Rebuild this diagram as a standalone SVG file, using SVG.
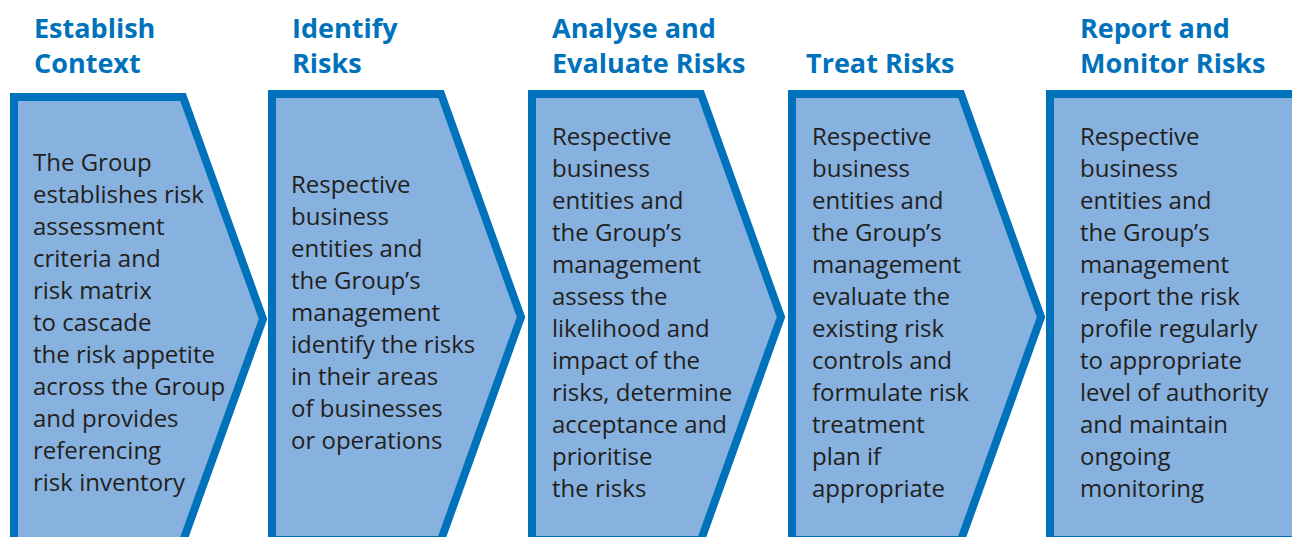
<svg xmlns="http://www.w3.org/2000/svg" width="1292" height="537" viewBox="0 0 1292 537">
<style>
.shape{fill:#87b1de;stroke:#0072bc;stroke-width:8;stroke-linejoin:miter;stroke-miterlimit:10}
.title{font-family:"Open Sans","Noto Sans","DejaVu Sans",sans-serif;font-weight:bold;font-size:27px;fill:#0072bc}
.body{font-family:"Open Sans","Noto Sans","DejaVu Sans",sans-serif;font-size:24px;fill:#231f20}
</style>
<rect width="1292" height="537" fill="#ffffff"/>
<g id="step1">
<polygon class="shape" points="14,97 183,97 263,319 183,541 14,541"/>
<text class="title"><tspan x="34" y="38">Establish</tspan><tspan x="34" y="73">Context</tspan></text>
<text class="body">
<tspan x="33" y="171">The Group</tspan>
<tspan x="33" y="203">establishes risk</tspan>
<tspan x="33" y="235">assessment</tspan>
<tspan x="33" y="267">criteria and</tspan>
<tspan x="33" y="299">risk matrix</tspan>
<tspan x="33" y="331">to cascade</tspan>
<tspan x="33" y="363">the risk appetite</tspan>
<tspan x="33" y="395">across the Group</tspan>
<tspan x="33" y="427">and provides</tspan>
<tspan x="33" y="459">referencing</tspan>
<tspan x="33" y="491">risk inventory</tspan>
</text>
</g>
<g id="step2">
<polygon class="shape" points="272,94 441,94 521,317 441,540 272,540"/>
<text class="title"><tspan x="292" y="38">Identify</tspan><tspan x="292" y="73">Risks</tspan></text>
<text class="body">
<tspan x="291" y="193">Respective</tspan>
<tspan x="291" y="225">business</tspan>
<tspan x="291" y="257">entities and</tspan>
<tspan x="291" y="289">the Group’s</tspan>
<tspan x="291" y="321">management</tspan>
<tspan x="291" y="353">identify the risks</tspan>
<tspan x="291" y="385">in their areas</tspan>
<tspan x="291" y="417">of businesses</tspan>
<tspan x="291" y="449">or operations</tspan>
</text>
</g>
<g id="step3">
<polygon class="shape" points="532,94 701,94 781,317 701,540 532,540"/>
<text class="title"><tspan x="552" y="38">Analyse and</tspan><tspan x="552" y="73">Evaluate Risks</tspan></text>
<text class="body">
<tspan x="552" y="145">Respective</tspan>
<tspan x="552" y="177">business</tspan>
<tspan x="552" y="209">entities and</tspan>
<tspan x="552" y="241">the Group’s</tspan>
<tspan x="552" y="273">management</tspan>
<tspan x="552" y="305">assess the</tspan>
<tspan x="552" y="337">likelihood and</tspan>
<tspan x="552" y="369">impact of the</tspan>
<tspan x="552" y="401">risks, determine</tspan>
<tspan x="552" y="433">acceptance and</tspan>
<tspan x="552" y="465">prioritise</tspan>
<tspan x="552" y="497">the risks</tspan>
</text>
</g>
<g id="step4">
<polygon class="shape" points="792,94 961,94 1041,317 961,540 792,540"/>
<text class="title"><tspan x="806" y="73">Treat Risks</tspan></text>
<text class="body">
<tspan x="812" y="145">Respective</tspan>
<tspan x="812" y="177">business</tspan>
<tspan x="812" y="209">entities and</tspan>
<tspan x="812" y="241">the Group’s</tspan>
<tspan x="812" y="273">management</tspan>
<tspan x="812" y="305">evaluate the</tspan>
<tspan x="812" y="337">existing risk</tspan>
<tspan x="812" y="369">controls and</tspan>
<tspan x="812" y="401">formulate risk</tspan>
<tspan x="812" y="433">treatment</tspan>
<tspan x="812" y="465">plan if</tspan>
<tspan x="812" y="497">appropriate</tspan>
</text>
</g>
<g id="step5">
<polygon class="shape" points="1050,94 1300,94 1300,540 1050,540"/>
<text class="title"><tspan x="1080" y="38">Report and</tspan><tspan x="1080" y="73">Monitor Risks</tspan></text>
<text class="body">
<tspan x="1080" y="145">Respective</tspan>
<tspan x="1080" y="177">business</tspan>
<tspan x="1080" y="209">entities and</tspan>
<tspan x="1080" y="241">the Group’s</tspan>
<tspan x="1080" y="273">management</tspan>
<tspan x="1080" y="305">report the risk</tspan>
<tspan x="1080" y="337">profile regularly</tspan>
<tspan x="1080" y="369">to appropriate</tspan>
<tspan x="1080" y="401">level of authority</tspan>
<tspan x="1080" y="433">and maintain</tspan>
<tspan x="1080" y="465">ongoing</tspan>
<tspan x="1080" y="497">monitoring</tspan>
</text>
</g>
<g id="connectors"></g>
</svg>
